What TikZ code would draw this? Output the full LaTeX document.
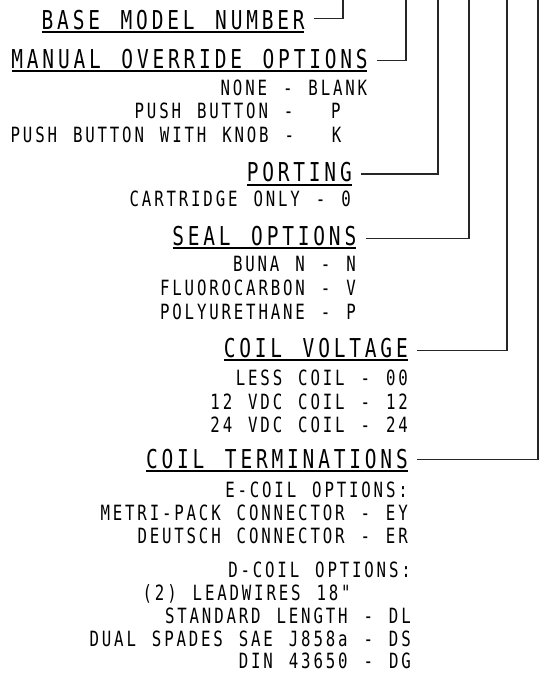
\documentclass[tikz,border=0pt]{standalone}
\usepackage{fontspec}
\newfontfamily\cadfont[FakeStretch=0.75,LetterSpace=13.42,WordSpace=1.297]{DejaVu Sans Mono}
\newfontfamily\cadhead[FakeStretch=0.75,LetterSpace=14.66,WordSpace=1.3246]{DejaVu Sans Mono}
\begin{document}
\begin{tikzpicture}[x=1pt,y=1pt,
  hdr/.style={inner sep=0pt, font={\fontsize{26pt}{30pt}\cadhead}},
  txt/.style={inner sep=0pt, font={\fontsize{21pt}{24pt}\cadfont}},
  conn/.style={line width=1.3pt, black!85},
  uline/.style={line width=1.8pt}]
\useasboundingbox[fill=white] (0,0) rectangle (551,-675);

% top ends of connectors
\coordinate (tBase) at (343,2);
\coordinate (tMan)  at (406,2);
\coordinate (tPort) at (438,2);
\coordinate (tSeal) at (469,2);
\coordinate (tCV)   at (507,2);
\coordinate (tCT)   at (538,2);

% headers
\node[hdr, anchor=base west] (hBase) at (41.5,-29.3) {BASE MODEL NUMBER};
\node[hdr, anchor=base west] (hMan)  at (11.2,-68.3) {MANUAL OVERRIDE OPTIONS};
\node[hdr, anchor=base east] (hPort) at (352,-181.7) {PORTING};
\node[hdr, anchor=base east] (hSeal) at (356.5,-245) {SEAL OPTIONS};
\node[hdr, anchor=base east] (hCV)   at (408,-357.3) {COIL VOLTAGE};
\node[hdr, anchor=base east] (hCT)   at (408,-468.3) {COIL TERMINATIONS};

\foreach \h in {hBase,hMan,hPort,hSeal,hCV,hCT}{
  \draw[uline] ([xshift=0.5pt,yshift=-3pt]\h.base west) -- ([xshift=-0.5pt,yshift=-3pt]\h.base east);
}

% connectors
\draw[conn] ([xshift=9pt,yshift=11pt]hBase.base east) -| (tBase);
\draw[conn] ([xshift=9pt,yshift=7.5pt]hMan.base east) -| (tMan);
\draw[conn] ([xshift=9pt,yshift=7.7pt]hPort.base east) -| (tPort);
\draw[conn] ([xshift=9pt,yshift=6.5pt]hSeal.base east) -| (tSeal);
\draw[conn] ([xshift=9pt,yshift=7pt]hCV.base east) -| (tCV);
\draw[conn] ([xshift=9pt,yshift=9pt]hCT.base east) -| (tCT);

% manual override options
\node[txt, anchor=base west] (m1) at (220.5,-95) {NONE - BLANK};
\node[txt, anchor=base west] (m2) at (134.5,-118.5) {PUSH BUTTON -\hphantom{XX} P};
\node[txt, anchor=base west] (m3) at (10.5,-142.5) {PUSH BUTTON WITH KNOB -\hphantom{XX} K};

% porting
\node[txt, anchor=base west] (p1) at (129.5,-206.7) {CARTRIDGE ONLY - 0};

% seal options
\node[txt, anchor=base east] (s1) at (356,-271) {BUNA N - N};
\node[txt, anchor=base east] (s2) at (356,-295) {FLUOROCARBON - V};
\node[txt, anchor=base east] (s3) at (356,-319) {POLYURETHANE - P};

% coil voltage
\node[txt, anchor=base east] (v1) at (408,-385) {LESS COIL - 00};
\node[txt, anchor=base east] (v2) at (408,-409) {12 VDC COIL - 12};
\node[txt, anchor=base east] (v3) at (408,-432) {24 VDC COIL - 24};

% coil terminations
\node[txt, anchor=base east] (e0) at (408,-497) {E-COIL OPTIONS:};
\node[txt, anchor=base east] (e1) at (408,-520) {METRI-PACK CONNECTOR - EY};
\node[txt, anchor=base east] (e2) at (408,-543) {DEUTSCH CONNECTOR - ER};

\node[txt, anchor=base east] (d0) at (411,-577) {D-COIL OPTIONS:};
\node[txt, anchor=base west] (d1) at (142.5,-600) {(2) LEADWIRES 18"};
\node[txt, anchor=base east] (d2) at (411,-623) {STANDARD LENGTH - DL};
\node[txt, anchor=base east] (d3) at (411,-646) {DUAL SPADES SAE J858a - DS};
\node[txt, anchor=base east] (d4) at (411,-668) {DIN 43650 - DG};
\end{tikzpicture}
\end{document}
